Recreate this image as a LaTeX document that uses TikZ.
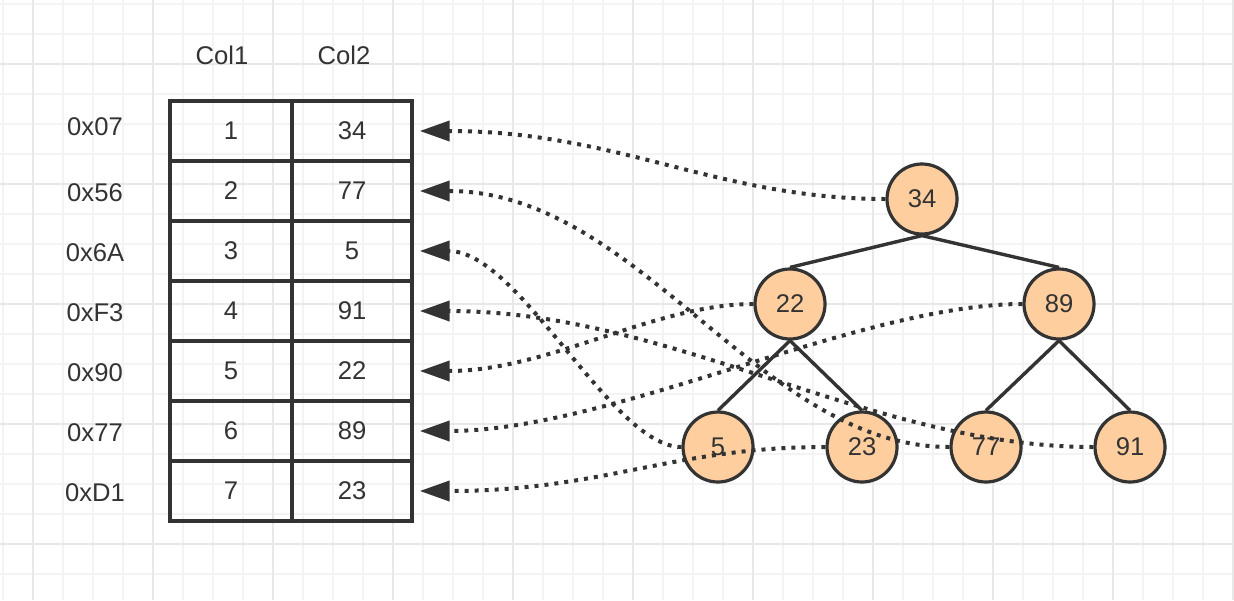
\documentclass[tikz,border=0pt]{standalone}
\usepackage{fontspec}
\setmainfont{Liberation Sans}
\usetikzlibrary{arrows.meta}
\definecolor{ink}{HTML}{333333}
\definecolor{peach}{HTML}{FFCE9F}
\definecolor{gridminor}{HTML}{F3F3F3}
\definecolor{gridmajor}{HTML}{E8E8E8}
\begin{document}
\begin{tikzpicture}[x=0.5pt,y=-0.5pt,
  every node/.style={font=\fontsize{12.8}{15}\selectfont, text=ink},
  minorline/.style={draw=gridminor, line width=0.8pt},
  majorline/.style={draw=gridmajor, line width=0.8pt},
  cellA/.style={draw=ink, line width=1.7pt, rectangle, inner sep=0pt,
    minimum width=61pt, minimum height=30pt},
  cellB/.style={cellA, minimum width=60pt},
  heapnode/.style={circle, draw=ink, fill=peach, line width=1.6pt,
    inner sep=0pt, minimum size=35pt},
  treeedge/.style={draw=ink, line width=1.7pt},
  link/.style={draw=ink, line width=2pt, dash pattern=on 2pt off 3pt,
    -{Triangle[length=15pt,width=10pt]}, shorten >=3pt}]

% canvas and background grid
\useasboundingbox (0,0) rectangle (1234,600);
\fill[white] (0,0) rectangle (1234,600);
\foreach \x in {3,33,...,1233} \draw[minorline] (\x,0) -- (\x,600);
\foreach \y in {4,34,...,594} \draw[minorline] (0,\y) -- (1234,\y);
\foreach \x in {33,153,...,1233} \draw[majorline] (\x,0) -- (\x,600);
\foreach \y in {64,184,...,544} \draw[majorline] (0,\y) -- (1234,\y);

% column headers
\node (h1) at (222,55) {Col1};
\node (h2) at (344,55) {Col2};

% address labels
\node (a1) at (95,127) {0x07};
\node (a2) at (95,193) {0x56};
\node (a3) at (95,253) {0x6A};
\node (a4) at (95,313) {0xF3};
\node (a5) at (95,373) {0x90};
\node (a6) at (95,433) {0x77};
\node (a7) at (95,493) {0xD1};

% table cells
\node[cellA] (k1) at (231,131) {1};
\node[cellA] (k2) at (231,191) {2};
\node[cellA] (k3) at (231,251) {3};
\node[cellA] (k4) at (231,311) {4};
\node[cellA] (k5) at (231,371) {5};
\node[cellA] (k6) at (231,431) {6};
\node[cellA] (k7) at (231,491) {7};
\node[cellB] (r1) at (352,131) {34};
\node[cellB] (r2) at (352,191) {77};
\node[cellB] (r3) at (352,251) {5};
\node[cellB] (r4) at (352,311) {91};
\node[cellB] (r5) at (352,371) {22};
\node[cellB] (r6) at (352,431) {89};
\node[cellB] (r7) at (352,491) {23};

% heap tree
\node[heapnode] (n34) at (922,199) {34};
\node[heapnode] (n22) at (790,304) {22};
\node[heapnode] (n89) at (1059,304) {89};
\node[heapnode] (n5)  at (718,447) {5};
\node[heapnode] (n23) at (862,447) {23};
\node[heapnode] (n77) at (986,447) {77};
\node[heapnode] (n91) at (1130,447) {91};

\draw[treeedge] (n34.south) -- (n22.north);
\draw[treeedge] (n34.south) -- (n89.north);
\draw[treeedge] (n22.south) -- (n5.north);
\draw[treeedge] (n22.south) -- (n23.north);
\draw[treeedge] (n89.south) -- (n77.north);
\draw[treeedge] (n89.south) -- (n91.north);

% pointers from tree nodes back to table rows
\draw[link] (n34.west) .. controls +(-168,0) and +(204,0) .. (r1.east);
\draw[link] (n77.west) .. controls +(-190,0) and +(226,0) .. (r2.east);
\draw[link] (n5.west)  .. controls +(-70,0)  and +(106,0) .. (r3.east);
\draw[link] (n91.west) .. controls +(-223,0) and +(259,0) .. (r4.east);
\draw[link] (n22.west) .. controls +(-99,0)  and +(135,0) .. (r5.east);
\draw[link] (n89.west) .. controls +(-162,0) and +(198,0) .. (r6.east);
\draw[link] (n23.west) .. controls +(-153,0) and +(189,0) .. (r7.east);
\end{tikzpicture}
\end{document}
